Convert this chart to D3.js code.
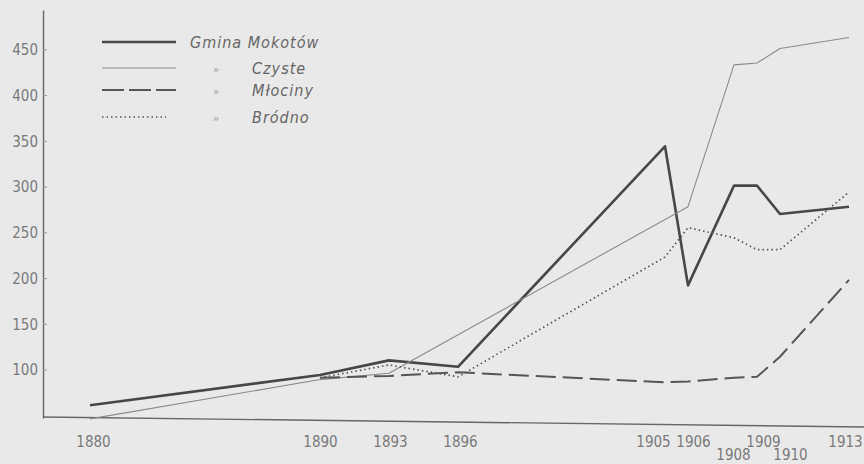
<!DOCTYPE html>
<html>
<head>
<meta charset="utf-8">
<script src="https://cdn.jsdelivr.net/npm/d3@7"></script>
<style>
    body { margin: 0; background: #e9e9e9; }
    svg { display: block; }
    .tick text { font-family: 'DejaVu Sans Condensed', 'DejaVu Sans', sans-serif; font-stretch: condensed; font-size: 15px; fill: #7a7a7a; }
    .legend text { font-family: 'DejaVu Sans Condensed', 'DejaVu Sans', sans-serif; font-stretch: condensed; font-style: italic; font-size: 16px; fill: #666; letter-spacing: 1px; }
</style>
</head>
<body>
<div id="chart"></div>
<script>
const years = [1880, 1890, 1893, 1896, 1905, 1906, 1908, 1909, 1910, 1913]
const yTicks = [100, 150, 200, 250, 300, 350, 400, 450]

const mokotowYears = [1880, 1890, 1893, 1896, 1905, 1906, 1908, 1909, 1910, 1913]
const mokotow = [61, 94, 110, 103, 344, 192, 301, 301, 270, 278]
const czysteYears = [1880, 1890, 1893, 1906, 1908, 1909, 1910, 1913]
const czyste = [46, 89, 96, 278, 433, 435, 451, 463]
const mlocinyYears = [1890, 1893, 1896, 1905, 1906, 1908, 1909, 1910, 1913]
const mlociny = [91, 93, 97, 86, 87, 91, 92, 114, 198]
const brodnoYears = [1890, 1893, 1896, 1905, 1906, 1908, 1909, 1910, 1913]
const brodno = [91, 105, 92, 223, 255, 244, 231, 231, 294]

const seriesNames = ['Gmina Mokotów', 'Czyste', 'Młociny', 'Bródno']

drawChart()
function drawChart() {
    const dim = { width: 864, height: 464, axisX: 43, axisTop: 10, axisBottom: 418 }

    const svg = d3.select('#chart').append('svg')
        .attr('width', dim.width).attr('height', dim.height)
    svg.append('rect').attr('width', dim.width).attr('height', dim.height).attr('fill', '#e9e9e9')

    const xScale = d3.scaleLinear().domain([1880, 1913]).range([90, 849])
    const yScale = d3.scaleLinear().domain([47, 493]).range([dim.axisBottom, dim.axisTop])

    // y axis, ticks pointing inward
    const yAxis = svg.append('g')
        .attr('transform', `translate(${dim.axisX},0)`)
        .call(d3.axisLeft(yScale).tickValues(yTicks).tickSizeInner(-4).tickSizeOuter(0).tickPadding(5))
    yAxis.select('.domain').attr('stroke', '#666').attr('stroke-width', 1.4)
    yAxis.selectAll('.tick line').attr('stroke', '#999')
    yAxis.selectAll('.tick text').attr('dy', '0.36em')

    // x axis: slightly tilted baseline like the printed original
    svg.append('line')
        .attr('x1', dim.axisX).attr('y1', dim.axisBottom - 1)
        .attr('x2', dim.width).attr('y2', dim.axisBottom + 9)
        .attr('stroke', '#666').attr('stroke-width', 1.4)

    const labelNudge = { 1880: 3, 1890: 0, 1893: 1, 1896: 2, 1905: -12, 1906: 5, 1908: -1, 1909: 6, 1910: 10, 1913: -4 }
    const lowRow = [1908, 1910]
    const xAxis = svg.append('g')
        .attr('transform', `translate(0,${dim.axisBottom + 8})`)
        .call(d3.axisBottom(xScale).tickValues(years).tickFormat(d3.format('d')).tickSize(0).tickPadding(10))
    xAxis.select('.domain').remove()
    xAxis.selectAll('.tick text')
        .attr('dx', d => labelNudge[d])
        .attr('dy', d => lowRow.includes(d) ? '1.6em' : '0.71em')

    const line = d3.line().x(d => xScale(d[0])).y(d => yScale(d[1]))
    const styles = [
        { stroke: '#474747', width: 2.6, dash: null },
        { stroke: '#8a8a8a', width: 1.1, dash: null },
        { stroke: '#555', width: 2, dash: '20,7' },
        { stroke: '#555', width: 1.7, dash: '1.5,3' }
    ]
    const series = [
        d3.zip(mokotowYears, mokotow),
        d3.zip(czysteYears, czyste),
        d3.zip(mlocinyYears, mlociny),
        d3.zip(brodnoYears, brodno)
    ]

    svg.append('g').selectAll('path')
        .data(series).join('path')
        .attr('d', line)
        .attr('fill', 'none')
        .attr('stroke', (d, i) => styles[i].stroke)
        .attr('stroke-width', (d, i) => styles[i].width)
        .attr('stroke-dasharray', (d, i) => styles[i].dash)
        .attr('stroke-linejoin', 'round')

    // legend
    const legend = svg.append('g').attr('class', 'legend')
    const legendY = [42, 68, 90, 117]
    const legendRows = legend.selectAll('g').data(seriesNames).join('g')
        .attr('transform', (d, i) => `translate(0,${legendY[i]})`)
    legendRows.append('line')
        .attr('x1', 102).attr('x2', (d, i) => i == 3 ? 166 : 176)
        .attr('stroke', (d, i) => styles[i].stroke)
        .attr('stroke-width', (d, i) => i == 0 ? 2.4 : styles[i].width)
        .attr('stroke-dasharray', (d, i) => i == 2 ? '22,5' : styles[i].dash)
    legendRows.append('text')
        .attr('x', (d, i) => i == 0 ? 190 : 252)
        .attr('dy', '0.36em')
        .text(d => d)
    legendRows.filter((d, i) => i > 0).append('text')
        .attr('x', 213).attr('dy', '0.45em')
        .style('font-size', '11px').style('letter-spacing', '0px').style('fill', '#999')
        .text('»')
}
</script>
</body>
</html>
